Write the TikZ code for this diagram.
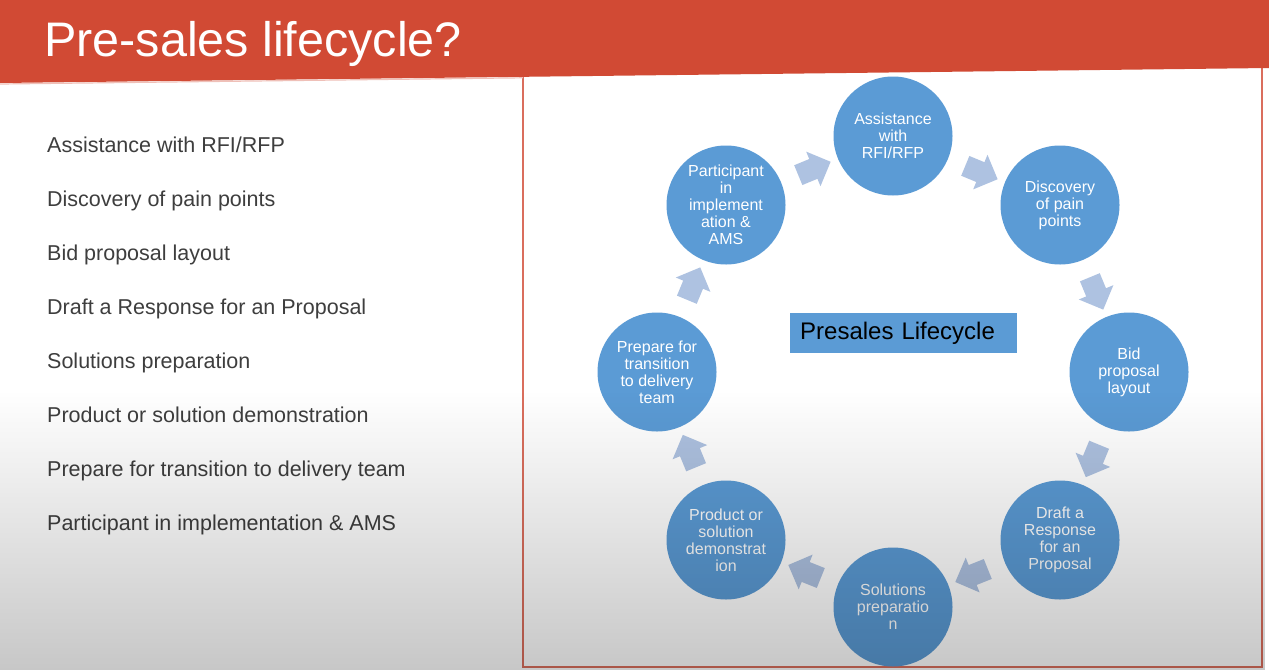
\documentclass[tikz,border=0pt]{standalone}
\usepackage{fontspec}
\setmainfont{Liberation Sans}
\usetikzlibrary{shapes.arrows,fadings}

\definecolor{hdrred}{RGB}{209,74,52}
\definecolor{stepblue}{RGB}{91,155,213}
\definecolor{arrowblue}{RGB}{174,194,225}
\definecolor{listgrey}{RGB}{62,62,62}

% soft darkening towards the lower edge
\tikzfading[name=fadetobottom, top color=transparent!100, bottom color=transparent!0]

\begin{document}
\begin{tikzpicture}[x=1pt,y=-1pt,
  stage/.style={circle, fill=stepblue, minimum size=119pt, inner sep=0pt,
    align=center, text=white, font=\fontsize{16}{17}\selectfont},
  cycarrow/.style={single arrow, fill=arrowblue, minimum height=35pt,
    single arrow head extend=8pt, inner xsep=0pt, inner ysep=10.5pt,
    sloped, allow upside down},
  listitem/.style={anchor=base west, text=listgrey, inner sep=0pt,
    font=\fontsize{21.5}{24}\selectfont}]

\useasboundingbox (0,0) rectangle (1269,670);
\fill[white] (0,0) rectangle (1269,670);

% framed panel holding the cycle
\draw[fill=white, draw=hdrred!80, line width=1.5pt] (523,60) rectangle (1262,667);

% title bar
\fill[hdrred] (0,0) -- (1269,0) -- (1269,68) -- (0,83) -- cycle;
\draw[hdrred!35, line width=1.2pt] (0,84) -- (523,77.8);
\node[anchor=base west, text=white, inner sep=0pt,
  font=\fontsize{48.5}{52}\selectfont] (title) at (44,56) {Pre-sales lifecycle?};

% list on the left
\node[listitem] (l1) at (47,152) {Assistance with RFI/RFP};
\node[listitem] (l2) at (47,206) {Discovery of pain points};
\node[listitem] (l3) at (47,260) {Bid proposal layout};
\node[listitem] (l4) at (47,314) {Draft a Response for an Proposal};
\node[listitem] (l5) at (47,368) {Solutions preparation};
\node[listitem] (l6) at (47,422) {Product or solution demonstration};
\node[listitem] (l7) at (47,476) {Prepare for transition to delivery team};
\node[listitem] (l8) at (47,530) {Participant in implementation \& AMS};

% the eight stages of the cycle
\node[stage] (a) at (893,136) {Assistance\\with\\RFI/RFP};
\node[stage] (b) at (1060,205) {Discovery\\of pain\\points};
\node[stage] (c) at (1129,372) {Bid\\proposal\\layout};
\node[stage] (d) at (1060,540) {Draft a\\Response\\for an\\Proposal};
\node[stage] (e) at (893,607) {Solutions\\preparatio\\n};
\node[stage] (f) at (726,540) {Product or\\solution\\demonstrat\\ion};
\node[stage] (g) at (657,372) {Prepare for\\transition\\to delivery\\team};
\node[stage] (h) at (726,205) {Participant\\in\\implement\\ation \&\\AMS};

% block arrows between consecutive stages
\path (a) -- (b) node[cycarrow, midway] (ab) {};
\path (b) -- (c) node[cycarrow, midway] (bc) {};
\path (c) -- (d) node[cycarrow, midway] (cd) {};
\path (d) -- (e) node[cycarrow, midway] (de) {};
\path (e) -- (f) node[cycarrow, midway] (ef) {};
\path (f) -- (g) node[cycarrow, midway] (fg) {};
\path (g) -- (h) node[cycarrow, midway] (gh) {};
\path (h) -- (a) node[cycarrow, midway] (ha) {};

% central caption
\node[fill=stepblue, anchor=north west, minimum height=40pt, text width=207pt,
  inner xsep=10pt, inner ysep=0pt, align=left, text=black,
  font=\fontsize{24}{28}\selectfont] (hub) at (790,313) {Presales Lifecycle};

% lower darkening over everything
\fill[black, opacity=0.22, path fading=fadetobottom] (0,390) rectangle (1269,670);
\end{tikzpicture}
\end{document}
